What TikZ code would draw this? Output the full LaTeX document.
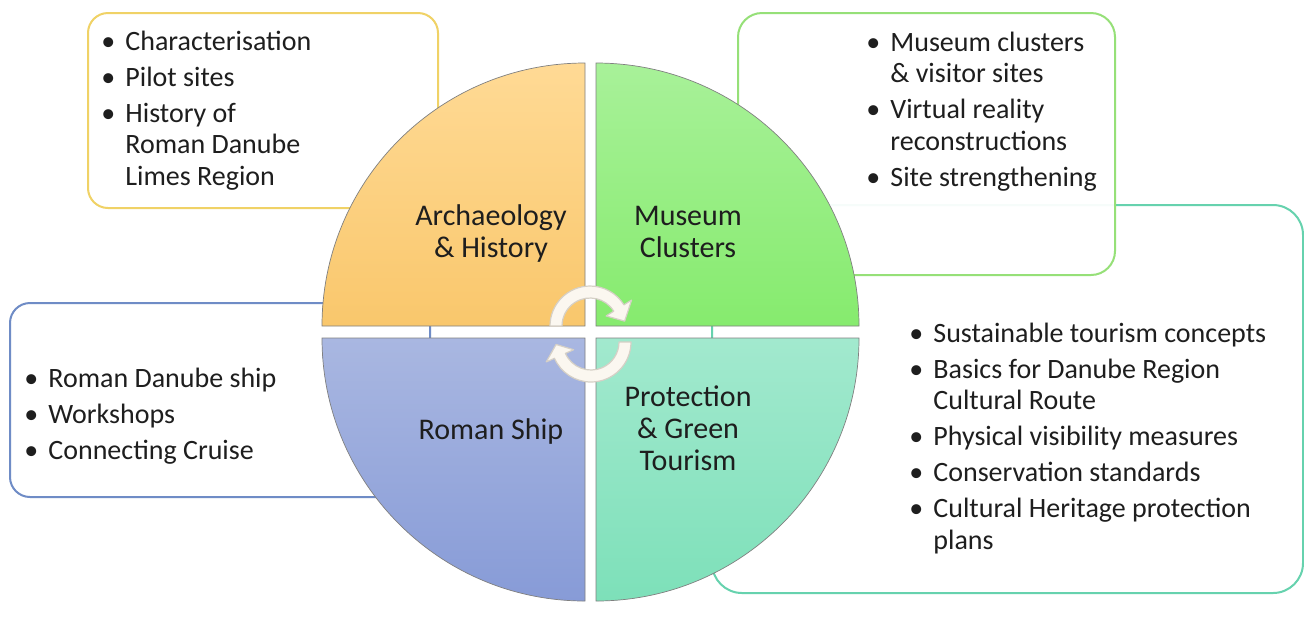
\documentclass[tikz,border=0pt]{standalone}
\usepackage{fontspec}
\setmainfont{Carlito}
\usetikzlibrary{calc}
\definecolor{txt}{HTML}{1E1E1E}
\definecolor{yelB}{HTML}{F0D266}
\definecolor{grnB}{HTML}{96E078}
\definecolor{bluB}{HTML}{6F8CC6}
\definecolor{tealB}{HTML}{66D2AE}
\definecolor{orT}{HTML}{FFDA95}
\definecolor{orB}{HTML}{F9C76C}
\definecolor{grT}{HTML}{A8F199}
\definecolor{grB}{HTML}{86EB6E}
\definecolor{blT}{HTML}{A9B7E1}
\definecolor{blB}{HTML}{879BD7}
\definecolor{tlT}{HTML}{A2E9CE}
\definecolor{tlB}{HTML}{7DE0B9}
\definecolor{arF}{HTML}{FBF7F0}
\definecolor{arL}{HTML}{D6D0C6}
\newcommand\bu{\llap{•\hspace{5pt}}}
\newcommand\bgap{\\[2.25pt]}
\tikzset{
  box/.style={line width=1pt, fill=white, rounded corners=10pt},
  quad/.style={draw=black!50, line width=0.35pt},
  cyc/.style={fill=arF, draw=arL, line width=0.6pt, line join=round},
  lst/.style={inner sep=0pt, anchor=base west, text=txt, font=\fontsize{14}{15.75}\selectfont},
  lab/.style={inner sep=0pt, anchor=base, text=txt, font=\fontsize{15}{16}\selectfont}
}
\begin{document}
\begin{tikzpicture}[x=0.5pt,y=-0.5pt]
\useasboundingbox (0,0) rectangle (1304,623);
\fill[white] (0,0) rectangle (1304,623);
% boxes
\draw[box, draw=tealB, rounded corners=15pt] (712,205) rectangle (1303,593);
\draw[box, draw=grnB, fill opacity=0.94, rounded corners=12pt] (738,13) rectangle (1115,275);
\draw[box, draw=yelB] (88,13) rectangle (438,208);
\draw[box, draw=bluB] (10,303) rectangle (430,497);
% quadrants
\shadedraw[quad, top color=orT, bottom color=orB] (585,326) -- (322,326) arc[start angle=180, end angle=270, radius=263] -- cycle;
\shadedraw[quad, top color=grT, bottom color=grB] (596,326) -- (596,63) arc[start angle=270, end angle=360, radius=263] -- cycle;
\shadedraw[quad, top color=tlT, bottom color=tlB] (596,338) -- (859,338) arc[start angle=0, end angle=90, radius=263] -- cycle;
\shadedraw[quad, top color=blT, bottom color=blB] (585,338) -- (585,601) arc[start angle=90, end angle=180, radius=263] -- cycle;
% cycle arrows
\coordinate (T) at (590,326);
\coordinate (B) at (591,342);
\filldraw[cyc] ($(T)+(180:40)$) arc[start angle=180, end angle=328, radius=40]
  -- ($(T)+(328:49)$) -- ($(T)+(352:35)$) -- ($(T)+(328:19)$) -- ($(T)+(328:28)$)
  arc[start angle=328, end angle=180, radius=28] -- cycle;
\filldraw[cyc] ($(B)+(0:40)$) arc[start angle=0, end angle=156, radius=40]
  -- ($(B)+(156:49)$) -- ($(B)+(176:35)$) -- ($(B)+(156:19)$) -- ($(B)+(156:28)$)
  arc[start angle=156, end angle=0, radius=28] -- cycle;
% quadrant labels
\node[lab] (arch) at (491,225) {\begin{tabular}[t]{@{}c@{}}Archaeology\\ \& History\end{tabular}};
\node[lab] (mus) at (688,225) {\begin{tabular}[t]{@{}c@{}}Museum\\ Clusters\end{tabular}};
\node[lab] (ship) at (491,439) {Roman Ship};
\node[lab] (prot) at (688,406) {\begin{tabular}[t]{@{}c@{}}Protection\\ \& Green\\ Tourism\end{tabular}};
% lists
\node[lst] (ylist) at (125,50) {\begin{tabular}[t]{@{}l@{}}\bu Characterisation\bgap \bu Pilot sites\bgap \bu History of\\ Roman Danube\\ Limes Region\end{tabular}};
\node[lst] (glist) at (890,51) {\begin{tabular}[t]{@{}l@{}}\bu Museum clusters\\ \& visitor sites\bgap \bu Virtual reality\\ reconstructions\bgap \bu Site strengthening\end{tabular}};
\node[lst] (tlist) at (933,342) {\begin{tabular}[t]{@{}l@{}}\bu Sustainable tourism concepts\bgap \bu Basics for Danube Region\\ Cultural Route\bgap \bu Physical visibility measures\bgap \bu Conservation standards\bgap \bu Cultural Heritage protection\\ plans\end{tabular}};
\node[lst] (blist) at (48,387) {\begin{tabular}[t]{@{}l@{}}\bu Roman Danube ship\bgap \bu Workshops\bgap \bu Connecting Cruise\end{tabular}};
\end{tikzpicture}
\end{document}
